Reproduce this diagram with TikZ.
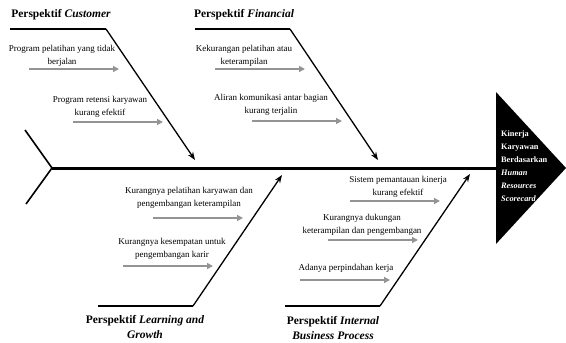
\documentclass[tikz,border=0pt]{standalone}
\usepackage{fontspec}
\setmainfont{Liberation Serif}
\usetikzlibrary{arrows.meta}
\tikzset{
  cause/.style={align=center,inner sep=0pt,font=\fontsize{9}{12.5}\selectfont},
  ttl/.style={align=center,inner sep=0pt,font=\fontsize{11.5}{15}\selectfont\bfseries},
  catarrow/.style={draw=black!42,line width=1.6pt,-{Triangle[length=6pt,width=6pt]}},
  bone/.style={draw=black,line width=2.2pt},
  rib/.style={draw=black,line width=1.3pt,-{Stealth[length=8pt,width=6pt]}},
  spine/.style={draw=black,line width=3pt},
  headtxt/.style={align=left,inner sep=0pt,text=white,font=\fontsize{8.3}{13}\selectfont\bfseries}
}
\begin{document}
\begin{tikzpicture}[x=1pt,y=-1pt]
\useasboundingbox (0,0) rectangle (566,343);
% head
\coordinate (h1) at (496,92);
\coordinate (h2) at (566,168);
\coordinate (h3) at (496,244);
\fill[black] (h1) -- (h2) -- (h3) -- cycle;
\node[headtxt,anchor=west] (head) at (501,166) {Kinerja\\Karyawan\\Berdasarkan\\\textit{Human}\\\textit{Resources}\\\textit{Scorecard}};
% spine
\coordinate (s0) at (52,168);
\coordinate (s1) at (497,168);
\coordinate (t1) at (25,130);
\coordinate (t2) at (26,204);
\draw[spine] (s0) -- (s1);
\draw[line width=1.6pt] (t1) -- (s0) -- (t2);
% Customer
\node[ttl] (tc) at (61,15) {Perspektif \textit{Customer}};
\coordinate (c0) at (10,29);
\coordinate (c1) at (106,29);
\coordinate (c2) at (195,160);
\draw[bone] (c0) -- (c1);
\draw[rib] (c1) -- (c2);
\node[cause] (c1t) at (62,56) {Program pelatihan yang tidak\\berjalan};
\coordinate (c1a) at (29,69); \coordinate (c1b) at (119,69);
\draw[catarrow] (c1a) -- (c1b);
\node[cause] (c2t) at (100,107) {Program retensi karyawan\\kurang efektif};
\coordinate (c2a) at (73,122); \coordinate (c2b) at (163,122);
\draw[catarrow] (c2a) -- (c2b);
% Financial
\node[ttl] (tf) at (244,15) {Perspektif \textit{Financial}};
\coordinate (f0) at (195,29);
\coordinate (f1) at (290,29);
\coordinate (f2) at (378,160);
\draw[bone] (f0) -- (f1);
\draw[rib] (f1) -- (f2);
\node[cause] (f1t) at (244,56) {Kekurangan pelatihan atau\\keterampilan};
\coordinate (f1a) at (215,69); \coordinate (f1b) at (305,69);
\draw[catarrow] (f1a) -- (f1b);
\node[cause] (f2t) at (271,105) {Aliran komunikasi antar bagian\\kurang terjalin};
\coordinate (f2a) at (252,121); \coordinate (f2b) at (342,121);
\draw[catarrow] (f2a) -- (f2b);
% Learning and Growth
\node[ttl] (tl) at (145,327) {Perspektif \textit{Learning and}\\\textit{Growth}};
\coordinate (l0) at (98,306);
\coordinate (l1) at (193,306);
\coordinate (l2) at (282,175);
\draw[bone] (l0) -- (l1);
\draw[rib] (l1) -- (l2);
\node[cause] (l1t) at (189,198) {Kurangnya pelatihan karyawan dan\\pengembangan keterampilan};
\coordinate (l1a) at (153,218); \coordinate (l1b) at (243,218);
\draw[catarrow] (l1a) -- (l1b);
\node[cause] (l2t) at (172,249) {Kurangnya kesempatan untuk\\pengembangan karir};
\coordinate (l2a) at (123,266); \coordinate (l2b) at (213,266);
\draw[catarrow] (l2a) -- (l2b);
% Internal Business Process
\node[ttl] (ti) at (333,328) {Perspektif \textit{Internal}\\\textit{Business Process}};
\coordinate (i0) at (285,306);
\coordinate (i1) at (380,306);
\coordinate (i2) at (470,174);
\draw[bone] (i0) -- (i1);
\draw[rib] (i1) -- (i2);
\node[cause] (i1t) at (398,187) {Sistem pemantauan kinerja\\kurang efektif};
\coordinate (i1a) at (350,201); \coordinate (i1b) at (440,201);
\draw[catarrow] (i1a) -- (i1b);
\node[cause] (i2t) at (362,225) {Kurangnya dukungan\\keterampilan dan pengembangan};
\coordinate (i2a) at (328,240); \coordinate (i2b) at (418,240);
\draw[catarrow] (i2a) -- (i2b);
\node[cause] (i3t) at (346,268) {Adanya perpindahan kerja};
\coordinate (i3a) at (300,280); \coordinate (i3b) at (390,280);
\draw[catarrow] (i3a) -- (i3b);
\end{tikzpicture}
\end{document}
